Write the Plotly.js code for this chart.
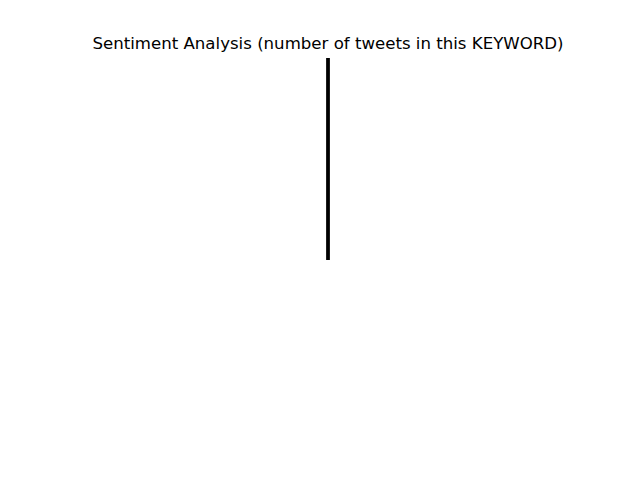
<!DOCTYPE html>
<html>
<head>
<meta charset="utf-8">
<script src="https://cdn.plot.ly/plotly-3.0.1.min.js"></script>
<style>html,body{margin:0;padding:0;background:#fff;}#chart{width:640px;height:480px;}</style>
</head>
<body>
<div id="chart"></div>
<script>
// Sentiment categories and tweet counts (all zero in this keyword)
const categories = ['Positive', 'Negative', 'Neutral'];
const tweetCounts = [0, 0, 0];
const startAngle = 90;

// Pie wedges drawn as their edges (zero-sized wedges collapse to edge lines)
const total = tweetCounts.reduce((a, b) => a + b, 0);
const xs = [], ys = [];
let cum = 0;
for (let i = 0; i < tweetCounts.length; i++) {
  const a0 = (startAngle + 360 * (total ? cum / total : 0)) * Math.PI / 180;
  cum += tweetCounts[i];
  const a1 = (startAngle + 360 * (total ? cum / total : 0)) * Math.PI / 180;
  xs.push(0, Math.cos(a0), null, 0, Math.cos(a1), null);
  ys.push(0, Math.sin(a0), null, 0, Math.sin(a1), null);
}

const data = [{
  type: 'scatter', mode: 'lines', x: xs, y: ys,
  line: {color: '#000', width: 2.6}, hoverinfo: 'skip', showlegend: false,
  text: categories
}];

const layout = {
  width: 640, height: 480,
  paper_bgcolor: '#fff', plot_bgcolor: '#fff',
  margin: {l: 80, r: 64, t: 58, b: 52},
  title: {text: 'Sentiment Analysis (number of tweets in this KEYWORD)',
          font: {family: 'DejaVu Sans', size: 16.6, color: '#000'},
          x: 0.5125, xanchor: 'center', y: 0.91, yanchor: 'middle'},
  xaxis: {range: [-1.228, 1.228], visible: false, fixedrange: true},
  yaxis: {range: [-0.832, 1], visible: false, fixedrange: true},
  showlegend: false
};

Plotly.newPlot('chart', data, layout, {displayModeBar: false, staticPlot: true});
</script>
</body>
</html>
